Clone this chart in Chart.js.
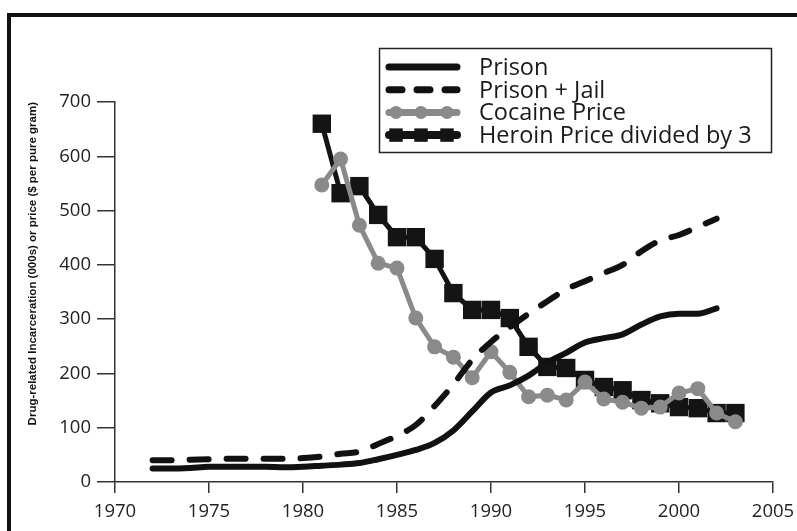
<!DOCTYPE html>
<html>
<head>
<meta charset="utf-8">
<script src="https://cdn.jsdelivr.net/npm/chart.js@4.4.1/dist/chart.umd.min.js"></script>
<style>
  html, body { margin: 0; padding: 0; background: #fff; }
  #wrap { position: relative; width: 797px; height: 531px; overflow: hidden; }
  #frame { position: absolute; left: 7px; top: 13px; width: 820px; height: 560px;
           border-top: 4px solid #111; border-left: 4px solid #111; pointer-events: none; }
</style>
</head>
<body>
<div id="wrap">
  <canvas id="chart" width="797" height="531"></canvas>
  <div id="frame"></div>
</div>
<script>
// incarceration, thousands
const prisonYears = [1972, 1973, 1974, 1975, 1976, 1977, 1978, 1979, 1980, 1981, 1982, 1983, 1984, 1985, 1986, 1987,
  1988, 1989, 1990, 1991, 1992, 1993, 1994, 1995, 1996, 1997, 1998, 1999, 2000, 2001, 2002];
const prison = [25, 25, 26, 28, 28, 28, 28, 27, 28, 30, 32, 35, 42, 50, 59, 72,
  95, 130, 165, 178, 196, 220, 238, 257, 265, 272, 290, 305, 310, 310, 320];
const prisonJail = [40, 40, 41, 42, 43, 43, 43, 43, 44, 47, 52, 56, 70, 85, 105, 140,
  180, 225, 258, 285, 310, 333, 355, 370, 385, 400, 425, 445, 455, 470, 485];

// price per pure gram
const priceYears = [1981, 1982, 1983, 1984, 1985, 1986, 1987, 1988, 1989, 1990, 1991, 1992,
  1993, 1994, 1995, 1996, 1997, 1998, 1999, 2000, 2001, 2002, 2003];
const cocaine = [547, 595, 473, 403, 394, 302, 249, 230, 192, 240, 202, 157,
  160, 151, 184, 153, 147, 136, 138, 164, 172, 127, 111];
const heroinDiv3 = [660, 532, 545, 492, 451, 451, 411, 348, 317, 317, 302, 249,
  212, 210, 188, 175, 169, 151, 145, 138, 136, 127, 127];

const yTicks = [0, 100, 200, 300, 400, 500, 600, 700];
const xTicks = [1970, 1975, 1980, 1985, 1990, 1995, 2000, 2005];

const pts = (xs, ys) => xs.map((x, i) => ({ x: x, y: ys[i] }));

// legend with line samples, drawn in a box at the top right
const boxLegend = {
  id: 'boxLegend',
  afterDraw(chart) {
    const ctx = chart.ctx;
    ctx.save();
    ctx.strokeStyle = '#222';
    ctx.lineWidth = 1.5;
    ctx.strokeRect(379.5, 48.5, 392, 104);
    chart.data.datasets.forEach((ds, i) => {
      const base = 75 + i * 22.7;
      const y = base - 8;
      ctx.beginPath();
      ctx.setLineDash(ds.legendDash || []);
      ctx.lineCap = 'round';
      ctx.lineWidth = ds.legendWidth;
      ctx.strokeStyle = ds.borderColor;
      ctx.moveTo(389, y);
      ctx.lineTo(457, y);
      ctx.stroke();
      ctx.setLineDash([]);
      if (ds.legendRadius) {
        ctx.fillStyle = ds.backgroundColor;
        [396, 421, 447].forEach(px => {
          Chart.helpers.drawPoint(ctx, { pointStyle: ds.pointStyle, radius: ds.legendRadius, borderWidth: 0, rotation: 0 }, px, y);
        });
      }
      ctx.fillStyle = '#1a1a1a';
      ctx.font = '23.5px "Open Sans"';
      ctx.textBaseline = 'alphabetic';
      ctx.fillText(ds.label, 479, base);
    });
    ctx.restore();
  }
};

new Chart(document.getElementById('chart'), {
  type: 'line',
  data: {
    datasets: [
      {
        label: 'Prison',
        data: pts(prisonYears, prison),
        borderColor: '#111',
        borderWidth: 6,
        legendWidth: 7,
        pointRadius: 0,
        cubicInterpolationMode: 'monotone',
        borderCapStyle: 'round'
      },
      {
        label: 'Prison + Jail',
        data: pts(prisonYears, prisonJail),
        borderColor: '#111',
        borderWidth: 6,
        legendWidth: 7,
        borderDash: [19, 18],
        legendDash: [13, 15],
        pointRadius: 0,
        cubicInterpolationMode: 'monotone',
        borderCapStyle: 'round'
      },
      {
        label: 'Cocaine Price',
        data: pts(priceYears, cocaine),
        borderColor: '#8a8a8a',
        backgroundColor: '#8a8a8a',
        borderWidth: 5,
        legendWidth: 7,
        pointStyle: 'circle',
        pointRadius: 7.5,
        pointBorderWidth: 0,
        legendRadius: 6.5,
        tension: 0
      },
      {
        label: 'Heroin Price divided by 3',
        data: pts(priceYears, heroinDiv3),
        borderColor: '#141414',
        backgroundColor: '#141414',
        borderWidth: 5,
        legendWidth: 8,
        pointStyle: 'rect',
        pointRadius: 13,
        pointBorderWidth: 0,
        legendRadius: 9.5,
        tension: 0
      }
    ]
  },
  options: {
    responsive: false,
    animation: false,
    layout: { padding: { top: 102, right: 24, bottom: 0, left: 0 } },
    plugins: {
      legend: { display: false },
      tooltip: { enabled: false }
    },
    scales: {
      x: {
        type: 'linear',
        min: 1970,
        max: 2005,
        afterFit: s => { s.height = 49; s.paddingRight = 0; s.paddingLeft = 0; },
        afterBuildTicks: s => { s.ticks = xTicks.map(v => ({ value: v })); },
        ticks: {
          callback: v => String(v),
          color: '#222',
          font: { family: 'Open Sans', size: 18.5 },
          padding: 8,
          maxRotation: 0
        },
        grid: { drawOnChartArea: false, drawTicks: true, tickLength: 11, color: '#333', lineWidth: 1.5 },
        border: { color: '#333', width: 1.5 }
      },
      y: {
        min: 0,
        max: 700,
        afterFit: s => { s.width = 115; },
        afterBuildTicks: s => { s.ticks = yTicks.map(v => ({ value: v })); },
        ticks: {
          color: '#222',
          font: { family: 'Open Sans', size: 18.5 },
          padding: 6
        },
        grid: { drawOnChartArea: false, drawTicks: true, tickLength: 18, color: '#333', lineWidth: 1.5 },
        border: { color: '#333', width: 1.5 },
        title: {
          display: true,
          text: 'Drug-related Incarceration (000s) or price ($ per pure gram)',
          align: 'end',
          color: '#111',
          font: { family: 'Liberation Sans', size: 11.5, weight: 'bold' },
          padding: { top: 26, bottom: 0 }
        }
      }
    }
  },
  plugins: [boxLegend]
});
</script>
</body>
</html>
